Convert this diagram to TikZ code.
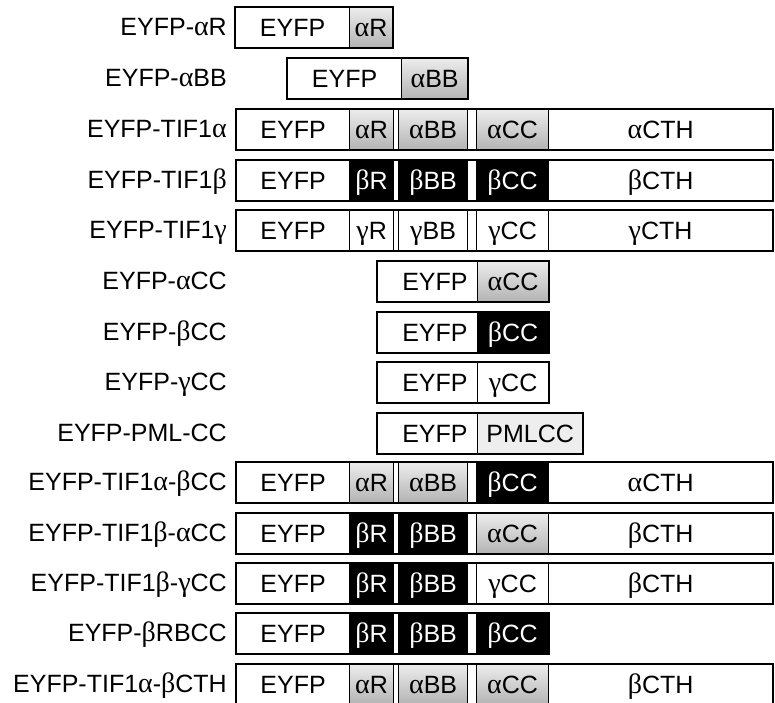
\documentclass[tikz,border=0pt]{standalone}
\usepackage{fontspec}
\setmainfont{Liberation Sans}
\newfontfamily\grk{Liberation Serif}
% Greek domain prefixes are set in a serif face, a little larger
\newcommand{\gA}{{\grk\fontsize{28}{30}\selectfont α}}
\newcommand{\gB}{{\grk\fontsize{28}{30}\selectfont β}}
\newcommand{\gG}{{\grk\fontsize{28}{30}\selectfont γ}}
\definecolor{gtop}{RGB}{236,236,236}
\definecolor{gbot}{RGB}{180,180,180}
\definecolor{pmlgray}{RGB}{238,238,238}
\tikzset{
  txt/.style={font=\fontsize{25}{30}\selectfont},
  cell/.style={txt, draw, line width=1.2pt, inner sep=0pt, minimum height=39.5pt,
    text height=18pt, text depth=0pt, anchor=north west},
  wcell/.style={cell, fill=white},
  gcell/.style={cell, top color=gtop, bottom color=gbot},
  bcell/.style={cell, fill=black, text=white},
  pcell/.style={cell, fill=pmlgray},
  outer/.style={draw, line width=2.4pt},
  lab/.style={txt, anchor=base east, inner sep=0pt},
  shifted/.style={text width=80pt, align=right}
}
% full-length construct: EYFP | R | BB | CC
\newcommand{\fullrow}[9]{%
  \node[lab] (#1-lab) at (227,#2+28.75) {#3};
  \node[wcell, minimum width=113pt] (#1-e) at (236,#2) {EYFP};
  \node[#4, minimum width=44pt] (#1-r) at (349,#2) {#5};
  \node[#6, minimum width=69pt] (#1-b) at (398,#2) {#7};
  \node[#8, minimum width=72pt] (#1-c) at (476,#2) {#9};
}
% C-terminal half and the outline of the whole construct
\newcommand{\cthcell}[3]{%
  \node[wcell, minimum width=224pt] (#1-t) at (548,#2) {#3};
  \draw[outer] (#1-e.north west) rectangle (#1-t.south east);
}
% short construct: EYFP | one coiled-coil domain
\newcommand{\ccrow}[6]{%
  \node[lab] (#1-lab) at (227,#2+28.75) {#3};
  \node[wcell, minimum width=100pt, shifted] (#1-e) at (377,#2) {EYFP};
  \node[#4, minimum width=#6] (#1-c) at (477,#2) {#5};
  \draw[outer] (#1-e.north west) rectangle (#1-c.south east);
}
\begin{document}
\begin{tikzpicture}[x=1pt,y=-1pt]
\useasboundingbox (0,0) rectangle (775,702);

% EYFP-aR
\node[lab] (r1-lab) at (227,35.75) {EYFP-\gA R};
\node[wcell, minimum width=114pt] (r1-e) at (235,7) {EYFP};
\node[gcell, minimum width=43pt] (r1-r) at (349,7) {\gA R};
\draw[outer] (r1-e.north west) rectangle (r1-r.south east);

% EYFP-aBB
\node[lab] (r2-lab) at (227,86.75) {EYFP-\gA BB};
\node[wcell, minimum width=114pt] (r2-e) at (287,58) {EYFP};
\node[gcell, minimum width=66pt] (r2-b) at (401,58) {\gA BB};
\draw[outer] (r2-e.north west) rectangle (r2-b.south east);

% full-length TIF1 proteins
\fullrow{r3}{109}{EYFP-TIF1\gA}{gcell}{\gA R}{gcell}{\gA BB}{gcell}{\gA CC}
\cthcell{r3}{109}{\gA CTH}
\fullrow{r4}{160}{EYFP-TIF1\gB}{bcell}{\gB R}{bcell}{\gB BB}{bcell}{\gB CC}
\cthcell{r4}{160}{\gB CTH}
\fullrow{r5}{210}{EYFP-TIF1\gG}{wcell}{\gG R}{wcell}{\gG BB}{wcell}{\gG CC}
\cthcell{r5}{210}{\gG CTH}

% isolated coiled coils
\ccrow{r6}{261}{EYFP-\gA CC}{gcell}{\gA CC}{71pt}
\ccrow{r7}{312}{EYFP-\gB CC}{bcell}{\gB CC}{71pt}
\ccrow{r8}{362}{EYFP-\gG CC}{wcell}{\gG CC}{71pt}
\ccrow{r9}{413}{EYFP-PML-CC}{pcell}{PMLCC}{105pt}

% chimeras
\fullrow{r10}{462}{EYFP-TIF1\gA-\gB CC}{gcell}{\gA R}{gcell}{\gA BB}{bcell}{\gB CC}
\cthcell{r10}{462}{\gA CTH}
\fullrow{r11}{513}{EYFP-TIF1\gB-\gA CC}{bcell}{\gB R}{bcell}{\gB BB}{gcell}{\gA CC}
\cthcell{r11}{513}{\gB CTH}
\fullrow{r12}{563}{EYFP-TIF1\gB-\gG CC}{bcell}{\gB R}{bcell}{\gB BB}{wcell}{\gG CC}
\cthcell{r12}{563}{\gB CTH}
\fullrow{r13}{613}{EYFP-\gB RBCC}{bcell}{\gB R}{bcell}{\gB BB}{bcell}{\gB CC}
\draw[outer] (r13-e.north west) rectangle (r13-c.south east);
\fullrow{r14}{664}{EYFP-TIF1\gA-\gB CTH}{gcell}{\gA R}{gcell}{\gA BB}{gcell}{\gA CC}
\cthcell{r14}{664}{\gB CTH}
\end{tikzpicture}
\end{document}
